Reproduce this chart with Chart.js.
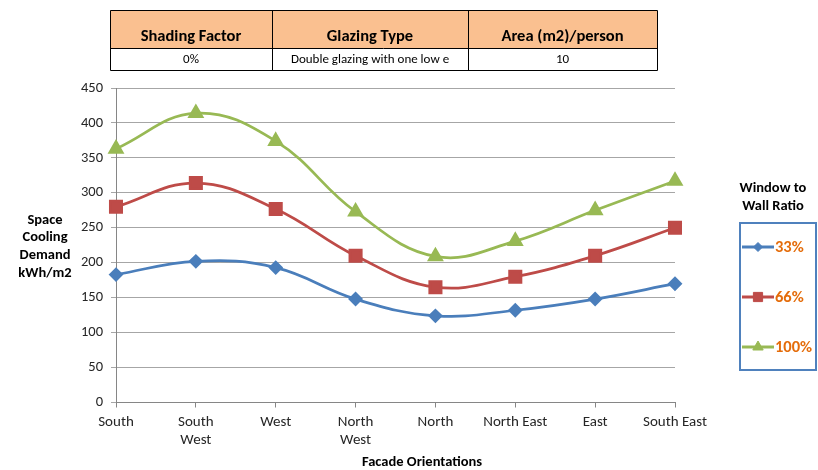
<!DOCTYPE html>
<html>
<head>
<meta charset="utf-8">
<script src="https://cdn.jsdelivr.net/npm/chart.js@4/dist/chart.umd.min.js"></script>
<style>
  html, body { margin: 0; padding: 0; background: #ffffff; }
  #wrap { position: relative; width: 818px; height: 470px; }
  #chart { position: absolute; left: 0; top: 0; }
</style>
</head>
<body>
<div id="wrap"><canvas id="chart" width="818" height="470"></canvas></div>
<script>
// Facade orientations along the x axis
const orientations = ['South', ['South', 'West'], 'West', ['North', 'West'], 'North', 'North East', 'East', 'South East'];

// Space cooling demand (kWh/m2) for each window-to-wall ratio
const wwr33 = [183, 202, 193, 148, 124, 132, 148, 170];
const wwr66 = [280, 314, 277, 210, 165, 180, 210, 250];
const wwr100 = [363, 414, 374, 273, 209, 231, 275, 317];
const seriesNames = ['33%', '66%', '100%'];

// Value axis range
const yMin = 0;
const yMax = 450;
const yStep = 50;

// Simulation settings table above the chart
const tableHeaders = ['Shading Factor', 'Glazing Type', 'Area (m2)/person'];
const tableValues = ['0%', 'Double glazing with one low e', '10'];

const FONT = 'Carlito, Lato, "Open Sans", sans-serif';
const TEXT = '#262626';

const settingsTable = {
  id: 'settingsTable',
  afterDraw(chart) {
    const ctx = chart.ctx;
    const cols = [110, 272, 468, 657];
    const top = 10, mid = 48, bottom = 70;
    ctx.save();
    ctx.fillStyle = '#fac090';
    ctx.fillRect(cols[0], top, cols[3] - cols[0], mid - top);
    ctx.strokeStyle = '#000000';
    ctx.lineWidth = 1;
    ctx.beginPath();
    ctx.rect(cols[0] + 0.5, top + 0.5, cols[3] - cols[0], bottom - top);
    ctx.moveTo(cols[0], mid + 0.5); ctx.lineTo(cols[3], mid + 0.5);
    for (let i = 1; i < 3; i++) { ctx.moveTo(cols[i] + 0.5, top); ctx.lineTo(cols[i] + 0.5, bottom); }
    ctx.stroke();
    ctx.fillStyle = '#000000';
    ctx.textAlign = 'center';
    ctx.textBaseline = 'middle';
    for (let i = 0; i < 3; i++) {
      const cx = (cols[i] + cols[i + 1]) / 2;
      ctx.font = 'bold 16.5px ' + FONT;
      ctx.fillText(tableHeaders[i], cx, 37);
      ctx.font = '13px ' + FONT;
      ctx.fillText(tableValues[i], cx, 60);
    }
    ctx.restore();
  }
};

const titlesAndLegend = {
  id: 'titlesAndLegend',
  afterDraw(chart) {
    const ctx = chart.ctx;
    ctx.save();
    ctx.fillStyle = '#000000';
    ctx.textAlign = 'center';
    ctx.textBaseline = 'middle';
    ctx.font = 'bold 14.5px ' + FONT;
    // value axis title
    ['Space', 'Cooling', 'Demand', 'kWh/m2'].forEach((t, i) => ctx.fillText(t, 45, 220 + i * 17.8));
    // category axis title
    ctx.fillText('Facade Orientations', 422, 462);
    // legend title
    ctx.fillText('Window to', 773, 188);
    ctx.fillText('Wall Ratio', 773, 206);

    // legend box
    ctx.strokeStyle = '#4f81bd';
    ctx.lineWidth = 2;
    ctx.strokeRect(740, 223, 76, 147);

    const legendRadius = [4.5, 6.5, 6];
    chart.data.datasets.forEach((ds, i) => {
      const y = 247 + i * 50;
      ctx.strokeStyle = ds.borderColor;
      ctx.lineWidth = 3;
      ctx.beginPath();
      ctx.moveTo(742, y); ctx.lineTo(774, y);
      ctx.stroke();
      ctx.fillStyle = ds.backgroundColor;
      ctx.lineWidth = 1;
      Chart.helpers.drawPoint(ctx, {
        pointStyle: ds.pointStyle,
        radius: legendRadius[i],
        borderWidth: 1
      }, 758, y);
      ctx.fillStyle = '#e46c0a';
      ctx.textAlign = 'left';
      ctx.font = 'bold 16.5px ' + FONT;
      ctx.fillText(ds.label, 775, y + 1);
    });
    ctx.restore();
  }
};

function series(label, values, color, style, radius) {
  return {
    label: label,
    data: values,
    borderColor: color,
    backgroundColor: color,
    pointBackgroundColor: color,
    pointBorderColor: color,
    pointStyle: style,
    pointRadius: radius,
    pointHoverRadius: radius,
    borderWidth: 2.75,
    tension: 0.4,
    fill: false
  };
}

new Chart(document.getElementById('chart'), {
  type: 'line',
  data: {
    labels: orientations,
    datasets: [
      series(seriesNames[0], wwr33, '#4a7ebb', 'rectRot', 5.5),
      series(seriesNames[1], wwr66, '#be4b48', 'rect', 8),
      series(seriesNames[2], wwr100, '#98b954', 'triangle', 7)
    ]
  },
  options: {
    responsive: false,
    animation: false,
    devicePixelRatio: 1,
    layout: { padding: { left: 0, right: 143, top: 88, bottom: 0 } },
    plugins: { legend: { display: false }, tooltip: { enabled: false } },
    scales: {
      x: {
        offset: false,
        afterFit(scale) { scale.height = 67.5; },
        grid: { drawOnChartArea: false, drawTicks: true, tickLength: 5, color: '#868686' },
        border: { color: '#868686', width: 1 },
        ticks: {
          color: TEXT,
          padding: 6,
          maxRotation: 0,
          autoSkip: false,
          font: { family: FONT, size: 15, lineHeight: 1.2 }
        }
      },
      y: {
        min: yMin,
        max: yMax,
        afterFit(scale) { scale.width = 116; },
        grid: { color: '#a6a6a6', lineWidth: 1, drawTicks: true, tickLength: 5 },
        border: { color: '#868686', width: 1 },
        ticks: {
          stepSize: yStep,
          color: TEXT,
          padding: 8,
          font: { family: FONT, size: 14.5 }
        }
      }
    }
  },
  plugins: [settingsTable, titlesAndLegend]
});
</script>
</body>
</html>
